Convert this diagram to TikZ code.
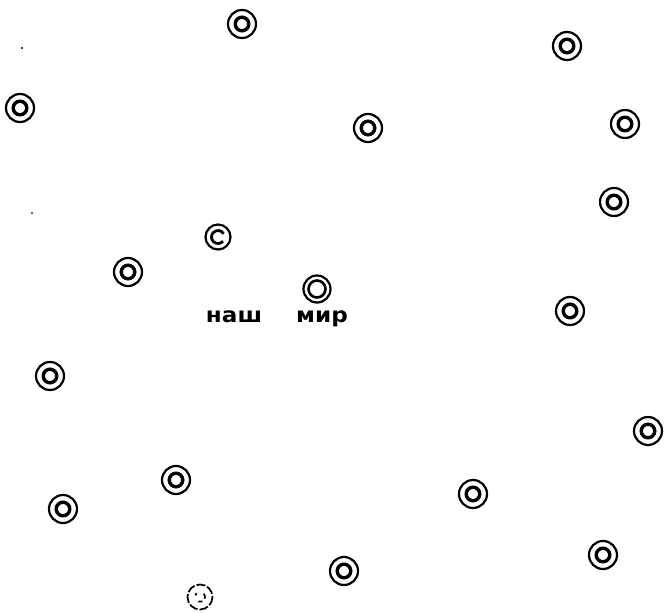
\documentclass[tikz,border=0pt]{standalone}
\usepackage{fontspec}
\usetikzlibrary{calc}
\newfontfamily\cyrfont{DejaVu Sans}
\begin{document}
\begin{tikzpicture}[x=1pt,y=-1pt,
  outerring/.style={draw=black,line width=2.2pt},
  innerring/.style={draw=black,line width=3.4pt},
  label/.style={font=\cyrfont\bfseries\fontsize{21}{21}\selectfont,inner sep=0pt,anchor=base,xscale=1.1}]
\useasboundingbox (0,0) rectangle (665,613);
\fill[white] (0,0) rectangle (665,613);
\newcommand{\target}[3]{%
  \coordinate (#1) at (#2,#3);
  \draw[outerring] (#1) circle (14);
  \draw[innerring] (#1) circle (6.8);}
\target{t1}{242}{24}
\target{t2}{567}{46}
\target{t3}{20}{108}
\target{t4}{368}{128}
\target{t5}{625}{124}
\target{t6}{614}{202}
\target{t8}{128}{272}
\target{t10}{570}{311}
\target{t11}{50}{376}
\target{t12}{648}{431}
\target{t13}{176}{480}
\target{t14}{473}{494}
\target{t15}{63}{509}
\target{t16}{603}{555}
\target{t17}{344}{571}
% variant rings
\coordinate (t7) at (218,237);
\draw[outerring] (t7) circle (12.5);
\draw[draw=black,line width=2.8pt] ($(t7)+(40:6.5)$) arc (40:330:6.5);
\coordinate (t9) at (317,289);
\draw[outerring] (t9) circle (13.5);
\draw[draw=black,line width=2.6pt] (t9) circle (8.5);
\coordinate (t18) at (200,597);
\draw[draw=black,line width=1.7pt,dash pattern=on 9pt off 2pt] (t18) circle (12.5);
\draw[draw=black,line width=1.7pt] ($(t18)+(60:5)$) arc (60:110:5);
\draw[draw=black,line width=1.7pt] ($(t18)+(-40:5)$) arc (-40:20:5);
\draw[draw=black,line width=1.7pt] ($(t18)+(200:5)$) arc (200:230:5);
% specks
\fill (22,48) circle (1.2);
\fill (32,213) circle (1);
% text
\node[label] (w1) at (234,322) {наш};
\node[label] (w2) at (322,322) {мир};
\end{tikzpicture}
\end{document}
